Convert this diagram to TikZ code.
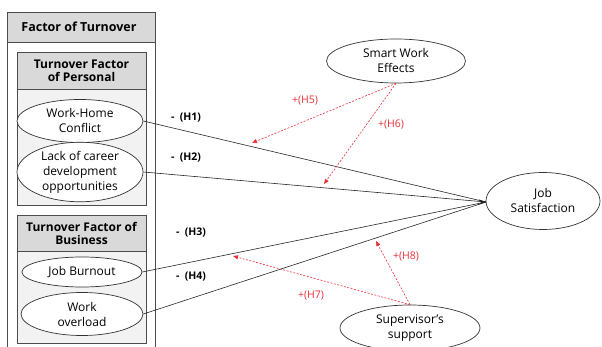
\documentclass[tikz,border=0pt]{standalone}
\usepackage{fontspec}
\setmainfont{Open Sans}
\usetikzlibrary{shapes.geometric,arrows.meta,calc}
\definecolor{hdr}{HTML}{D9D9D9}
\definecolor{body}{HTML}{F2F2F2}
\definecolor{redl}{HTML}{E8303A}
\tikzset{
  ell/.style={draw=black!80,line width=0.7pt,fill=white,ellipse,inner sep=0pt,align=center,font=\fontsize{12}{15}\selectfont},
  hdrbox/.style={draw=black!70,line width=0.7pt,fill=hdr},
  bodybox/.style={draw=black!70,line width=0.7pt,fill=body},
  hdrtxt/.style={align=center,font=\fontsize{12}{13}\selectfont\bfseries},
  hlab/.style={font=\fontsize{10.5}{11}\selectfont\bfseries},
  plab/.style={text=redl,font=\fontsize{10.5}{11}\selectfont},
  pathline/.style={draw=black!85,line width=0.6pt},
  modline/.style={draw=redl,dashed,dash pattern=on 2pt off 1.5pt,line width=0.6pt,-{Triangle[length=5pt,width=4pt]}},
}
\begin{document}
\begin{tikzpicture}[x=1pt,y=-1pt]
\useasboundingbox (0,0) rectangle (602,347);
\begin{scope}
\clip (0,0) rectangle (602,347);
% outer box
\draw[draw=black!70,line width=0.7pt,fill=white] (7,12) rectangle (155,360);
\draw[hdrbox] (7,12) rectangle (155,42);
\node[hdrtxt,font=\fontsize{12.5}{13}\selectfont\bfseries] (outerhdr) at (79,27) {Factor of Turnover};
% box 1
\draw[bodybox] (17,52) rectangle (146,205);
\draw[hdrbox] (17,52) rectangle (146,89);
\node[hdrtxt] (hdra) at (81.5,70.5) {Turnover Factor\\of Personal};
% box 2
\draw[bodybox] (17,215) rectangle (146,343);
\draw[hdrbox] (17,215) rectangle (146,251);
\node[hdrtxt] (hdrb) at (81.5,233) {Turnover Factor of\\Business};
% ellipses
\node[ell,minimum width=126pt,minimum height=43pt] (whc) at (80,121) {Work-Home\\Conflict};
\node[ell,minimum width=126pt,minimum height=48pt] (lcd) at (80,172) {Lack of career\\development\\opportunities};
\node[ell,minimum width=120pt,minimum height=30pt] (jb) at (82,272) {Job Burnout};
\node[ell,minimum width=122pt,minimum height=43pt] (wo) at (82,314) {Work\\overload};
\node[ell,minimum width=139pt,minimum height=44pt] (swe) at (396,61) {Smart Work\\Effects};
\node[ell,minimum width=114pt,minimum height=57pt] (js) at (543,201) {Job\\Satisfaction};
\node[ell,minimum width=140pt,minimum height=46pt] (sup) at (410,328) {Supervisor’s\\support};
% tip coordinate
\coordinate (tip) at (486,202);
\draw[pathline] (whc.east) -- (tip);
\draw[pathline] (lcd.east) -- (tip);
\draw[pathline] (jb.east) -- (tip);
\draw[pathline] (wo.east) -- (tip);
\draw[pathline,-{Stealth[length=7pt,width=5pt]}] ($(tip)+(-1,0)$) -- (tip);
% moderators
\coordinate (m5) at (252,143);
\coordinate (m6) at (324,184);
\coordinate (m7) at (233,256);
\coordinate (m8) at (376,241);
\draw[modline] (swe.south) -- (m5);
\draw[modline] (swe.south) -- (m6);
\draw[modline] (sup.north) -- (m7);
\draw[modline] (sup.north) -- (m8);
% labels
\node[hlab] (h1) at (186,118) {-\ \ (H1)};
\node[hlab] (h2) at (186,158) {-\ \ (H2)};
\node[hlab] (h3) at (191,233) {-\ \ (H3)};
\node[hlab] (h4) at (191,277) {-\ \ (H4)};
\node[plab] (h5) at (305,101) {+(H5)};
\node[plab] (h6) at (391,125) {+(H6)};
\node[plab] (h7) at (311,296) {+(H7)};
\node[plab] (h8) at (406,257) {+(H8)};
\end{scope}
\end{tikzpicture}
\end{document}
